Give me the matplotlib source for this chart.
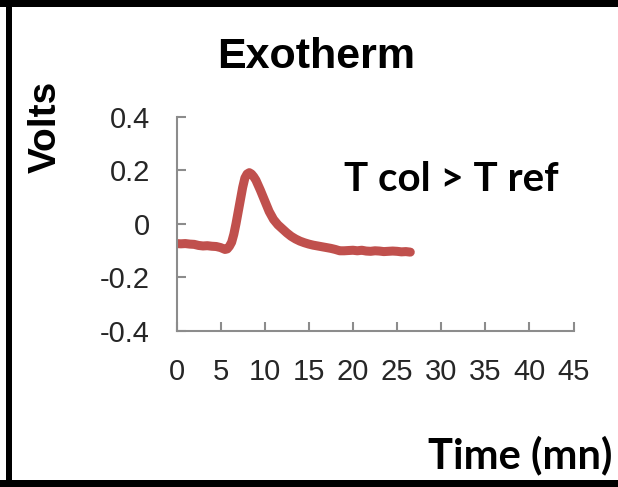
import matplotlib
matplotlib.use("Agg")
import matplotlib.pyplot as plt
from matplotlib.patches import Rectangle

# Thermal signal: time (min) vs. differential voltage (V)
time_mn = [0, 0.5, 1, 1.5, 2, 2.5, 3, 3.5, 4, 4.5, 5, 5.5, 5.75, 6, 6.25,
           6.5, 6.75, 7, 7.25, 7.5, 7.75, 8, 8.25, 8.5, 8.75, 9, 9.5, 10,
           10.5, 11, 11.5, 12, 12.5, 13, 13.5, 14, 14.5, 15, 15.5, 16, 16.5,
           17, 17.5, 18, 18.5, 19, 19.5, 20, 20.5, 21, 21.5, 22, 22.5, 23,
           23.5, 24, 24.5, 25, 25.5, 26, 26.5]
volts = [-0.075, -0.076, -0.075, -0.077, -0.078, -0.082, -0.084, -0.083,
         -0.085, -0.086, -0.090, -0.097, -0.095, -0.085, -0.070, -0.040,
         0.000, 0.045, 0.090, 0.135, 0.170, 0.185, 0.190, 0.185, 0.175,
         0.162, 0.125, 0.085, 0.045, 0.015, -0.005, -0.020, -0.035, -0.048,
         -0.058, -0.066, -0.072, -0.077, -0.081, -0.084, -0.087, -0.090,
         -0.093, -0.097, -0.102, -0.102, -0.101, -0.100, -0.102, -0.100,
         -0.103, -0.104, -0.102, -0.103, -0.105, -0.104, -0.103, -0.104,
         -0.106, -0.105, -0.107]

x_ticks = [0, 5, 10, 15, 20, 25, 30, 35, 40, 45]
y_ticks = [-0.4, -0.2, 0, 0.2, 0.4]
y_tick_labels = ["-0.4", "-0.2", "0", "0.2", "0.4"]

W, H = 618, 487
fig = plt.figure(figsize=(W / 100, H / 100), dpi=100)
fig.patch.set_facecolor("white")

ax = fig.add_axes([176.5 / W, 1 - 330.5 / H, (573.5 - 176.5) / W,
                   (330.5 - 116.5) / H])
ax.plot(time_mn, volts, color="#C0504D", lw=6.5, solid_capstyle="round",
        solid_joinstyle="round")

ax.set_xlim(0, 45)
ax.set_ylim(-0.4, 0.4)
ax.set_xticks(x_ticks)
ax.set_yticks(y_ticks)
ax.set_yticklabels(y_tick_labels)

for side in ("top", "right"):
    ax.spines[side].set_visible(False)
for side in ("left", "bottom"):
    ax.spines[side].set_color("#8c8c8c")
    ax.spines[side].set_linewidth(1.5)

ax.tick_params(axis="both", direction="in", length=6.5, width=1.5,
               color="#8c8c8c")
ax.tick_params(axis="x", pad=20)
ax.tick_params(axis="y", pad=19)
for lab in ax.get_xticklabels():
    lab.set_fontfamily(["Liberation Sans", "DejaVu Sans"])
    lab.set_fontsize(21)
    lab.set_color("#262626")
for lab in ax.get_yticklabels():
    lab.set_fontfamily(["Liberation Sans", "DejaVu Sans"])
    lab.set_fontsize(21)
    lab.set_color("#262626")

arial_bold = dict(family=["Liberation Sans", "DejaVu Sans"], weight="bold",
                  color="black")
calibri_bold = dict(family=["Lato", "DejaVu Sans"], weight="bold",
                    color="black")
fig.text(316 / W, 1 - 57 / H, "Exotherm", ha="center", va="center",
         fontsize=31, **arial_bold)
fig.text(46 / W, 1 - 127 / H, "Volts", ha="center", va="center",
         rotation=90, fontsize=28, **arial_bold)
fig.text(451 / W, 1 - 180 / H, "T col > T ref", ha="center", va="center",
         fontsize=29, **calibri_bold)
fig.text(612 / W, 1 - 455 / H, "Time (mn)", ha="right", va="center",
         fontsize=30, **calibri_bold)

# Black frame on the left, top and bottom edges
frame = dict(facecolor="black", edgecolor="none", transform=None)
fig.add_artist(Rectangle((6, 0), 6, H, **frame))
fig.add_artist(Rectangle((0, H - 7), W, 7, **frame))
fig.add_artist(Rectangle((0, 0), W, 7, **frame))

fig.savefig("out.png", dpi=100, facecolor="white")
